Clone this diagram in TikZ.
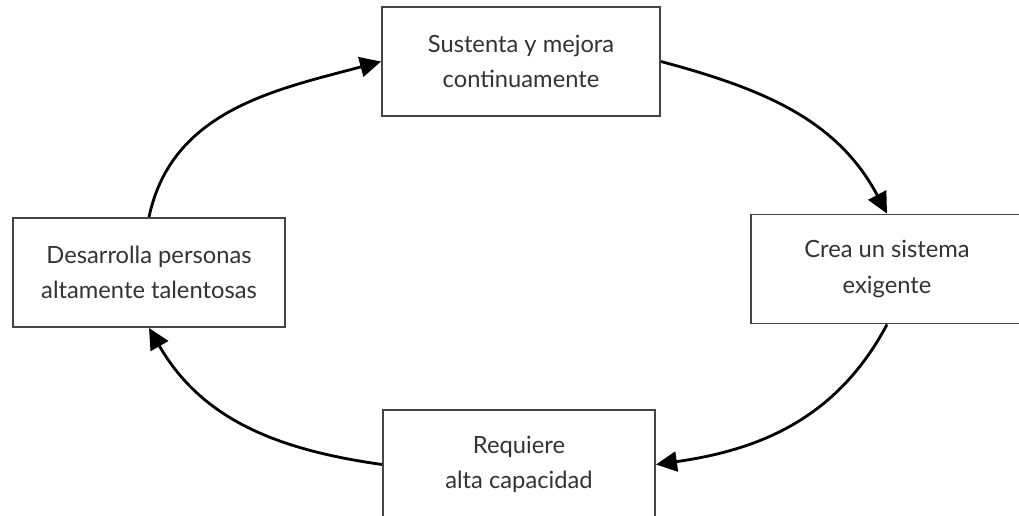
\documentclass[tikz,border=0pt]{standalone}
\usepackage{fontspec}
\setmainfont{Lato}
\usetikzlibrary{arrows.meta}
\definecolor{BoxGray}{HTML}{444444}
\definecolor{TextGray}{HTML}{333333}

\begin{document}
\begin{tikzpicture}[
    StepBox/.style={draw=BoxGray, line width=1.1pt, fill=white, align=center,
      minimum width=5.44cm, minimum height=2.18cm, text=TextGray,
      font=\fontsize{13.5}{20}\selectfont},
    CycleArrow/.style={line width=1.6pt, -{Triangle[length=0.42cm,width=0.4cm]}}
  ]
    \clip (0,0) rectangle (20.38,-10.3);% Keep the page at the reference size
    \node [StepBox, minimum width=5.56cm] (Sustenta)   at (10.42,-1.23) {Sustenta y mejora\\continuamente};
    \node [StepBox] (Crea)       at (17.74,-5.38) {Crea un sistema\\exigente};
    \node [StepBox] (Requiere)   at (10.38,-9.29) {Requiere\\alta capacidad};
    \node [StepBox] (Desarrolla) at (2.98,-5.45)  {Desarrolla personas\\altamente talentosas};
    \draw [CycleArrow] (Sustenta.east) to [out=-15, in=118] (Crea.north);% Top to right
    \draw [CycleArrow] (Crea.south) to [out=-118, in=8] (Requiere.east);% Right to bottom
    \draw [CycleArrow] (Requiere.west) to [out=172, in=-60] (Desarrolla.south);% Bottom to left
    \draw [CycleArrow] (Desarrolla.north) to [out=78, in=195] (Sustenta.west);% Left to top
\end{tikzpicture}
\end{document}
